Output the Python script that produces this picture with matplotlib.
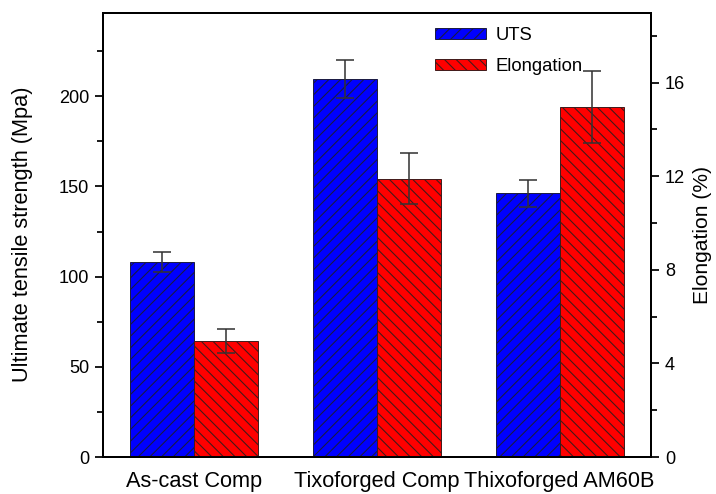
import numpy as np
import matplotlib

matplotlib.use("Agg")
import matplotlib.pyplot as plt
from matplotlib.ticker import MultipleLocator

# data
groups = ["As-cast Comp", "Tixoforged Comp", "Thixoforged AM60B"]
uts = [107.9, 209.4, 146.3]
uts_err = [5.6, 10.4, 7.5]
elong = [4.97, 11.9, 14.97]
elong_err = [0.51, 1.1, 1.55]

DPI = 140
plt.rcParams["font.family"] = ["Liberation Sans", "DejaVu Sans"]
plt.rcParams["hatch.linewidth"] = 0.55

fig = plt.figure(figsize=(716 / DPI, 494 / DPI), dpi=DPI)
ax = fig.add_axes([103 / 716, 1 - 457 / 494, 548 / 716, 444.5 / 494])
ax2 = ax.twinx()

x = np.arange(len(groups))
w = 0.35
ekw = dict(ecolor="#333333", elinewidth=0.8, capsize=4.5, capthick=0.8)
b1 = ax.bar(x - w / 2, uts, w, yerr=uts_err, color="#0000ff", edgecolor="#1a1a40",
            linewidth=0.5, hatch="////", error_kw=ekw, label="UTS")
b2 = ax2.bar(x + w / 2, elong, w, yerr=elong_err, color="#ff0000", edgecolor="#401a1a",
             linewidth=0.5, hatch="\\" * 4, error_kw=ekw, label="Elongation")

ax.set_xlim(-0.5, 2.5)
ax.set_ylim(0, 246.4)
ax2.set_ylim(0, 19.0)
ax.set_xticks(x)
ax.set_xticklabels(groups)
ax.yaxis.set_major_locator(MultipleLocator(50))
ax.yaxis.set_minor_locator(MultipleLocator(25))
ax2.yaxis.set_major_locator(MultipleLocator(4))
ax2.yaxis.set_minor_locator(MultipleLocator(2))

fs_tick = 9.3
fs_lab = 11.2
ax.tick_params(axis="x", length=0, labelsize=11.2, pad=7)
ax.tick_params(axis="y", which="major", length=4.2, width=0.9, labelsize=fs_tick, pad=3)
ax.tick_params(axis="y", which="minor", length=3, width=0.9)
ax2.tick_params(axis="y", which="major", length=4.2, width=0.9, labelsize=fs_tick, pad=3)
ax2.tick_params(axis="y", which="minor", length=3, width=0.9)
for a in (ax, ax2):
    for s in a.spines.values():
        s.set_linewidth(1.0)

ax.set_ylabel("Ultimate tensile strength (Mpa)", fontsize=fs_lab, labelpad=13)
ax2.set_ylabel("Elongation (%)", fontsize=10.8, labelpad=4)

ax.legend([b1, b2], ["UTS", "Elongation"], loc="upper left",
          bbox_to_anchor=(0.575, 1.005), frameon=False, fontsize=9.5,
          handlelength=2.75, handleheight=0.55, labelspacing=0.75, handletextpad=0.55)

fig.savefig("out.png", dpi=DPI)
